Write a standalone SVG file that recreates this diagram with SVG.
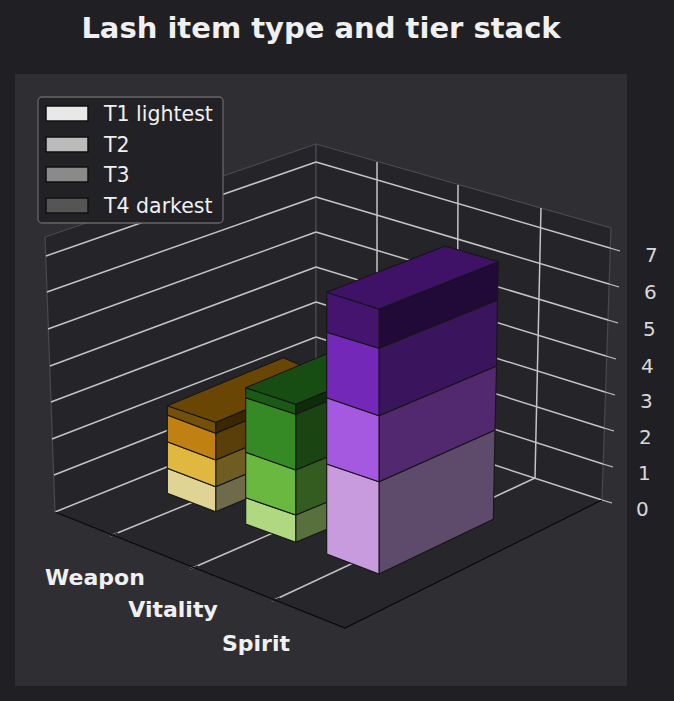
<svg xmlns="http://www.w3.org/2000/svg" width="674" height="701" viewBox="0 0 674 701">
<style>
text{font-family:"DejaVu Sans",sans-serif;fill:#f0f0f0}
.g{stroke:#c4c4c4;stroke-width:1.5;fill:none}
.e{stroke:#4a4950;stroke-width:1.2}
.b polygon{stroke:#161616;stroke-width:1.1;stroke-linejoin:round}
.cat{font-weight:bold;font-size:22px}
.zt{font-size:20px;fill:#d8d8d8}
.lg{font-size:20.5px}
</style>
<rect width="674" height="701" fill="#202024"/>
<rect x="15" y="74" width="612" height="612" fill="#2f2e33"/>
<text x="321" y="38" text-anchor="middle" font-size="29" font-weight="bold">Lash item type and tier stack</text>
<g id="panes">
<polygon points="45,237 316,144 316,407 55,512" fill="#252429" class="e"/>
<polygon points="316,144 611,228 602,500 316,407" fill="#252429" class="e"/>
<polygon points="55,512 316,407 602,500 345,628" fill="#27262b"/>
</g>
<g id="grid">
<path class="g" d="M55,512L316,407M54,475L316,372M52,439L316,337M51,402L316,302M50,366L316,267M48,329L316,232M47,292L316,197M46,256L316,162"/>
<path class="g" d="M316,407L602,500M316,372L603,464M316,337L604,428M316,302L605,392M316,267L606,356M316,232L608,320M316,197L609,284M316,162L610,248"/>
<path class="g" d="M377,162L377,427M458,185L457,453M541,208L535,478"/>
<path class="g" d="M110,536L377,427M190,569L457,453M272,601L535,478"/>
<path d="M55,512L345,628L602,500" stroke="#0a0a0a" stroke-width="1.2" fill="none"/>
<path d="M110,536L118,533M190,569L198,566M272,601L280,598" stroke="#0a0a0a" stroke-width="1.2"/>
<path d="M602,500L612,503M603,464L613,467M604,428L614,431M605,392L615,395M606,356L616,359M608,320L618,323M609,284L619,287M610,248L620,251" stroke="#c4c4c4" stroke-width="1.3"/>
</g>
<g id="ztick">
<text class="zt" x="636" y="516">0</text><text class="zt" x="638" y="480">1</text><text class="zt" x="639" y="444">2</text><text class="zt" x="640" y="408">3</text><text class="zt" x="641" y="373">4</text><text class="zt" x="643" y="336">5</text><text class="zt" x="644" y="299">6</text><text class="zt" x="645" y="262">7</text>
</g>
<g id="weapon" class="b">
<polygon points="215.7,511.7 325.7,465.7 325.7,440.7 215.7,486.7" fill="#6e6a4a"/>
<polygon points="167.3,493.3 215.7,511.7 215.7,486.7 167.3,468.3" fill="#e0d494"/>
<polygon points="215.7,486.7 325.7,440.7 325.7,414 215.7,460" fill="#6f5c20"/>
<polygon points="167.3,468.3 215.7,486.7 215.7,460 167.3,441.7" fill="#e0b840"/>
<polygon points="215.7,460 325.7,414 325.7,387.3 215.7,433.3" fill="#5a3f0a"/>
<polygon points="167.3,441.7 215.7,460 215.7,433.3 167.3,415" fill="#c08012"/>
<polygon points="215.7,433.3 325.7,387.3 325.7,376.3 215.7,422.3" fill="#3a2700"/>
<polygon points="167.3,415 215.7,433.3 215.7,422.3 167.3,405.7" fill="#74500a"/>
<polygon points="167.3,405.7 215.7,422.3 325.7,376.3 283.3,357.7" fill="#6a4605"/>
</g>
<g id="vitality" class="b">
<polygon points="295.7,542.3 407,496 407,469 295.7,515" fill="#58703e"/>
<polygon points="245.7,524 295.7,542.3 295.7,515 245.7,497.7" fill="#b0d880"/>
<polygon points="295.7,515 407,469 407,424 295.7,470" fill="#355c20"/>
<polygon points="245.7,497.7 295.7,515 295.7,470 245.7,452.3" fill="#6ab840"/>
<polygon points="295.7,470 407,424 407,368 295.7,414.3" fill="#1a4512"/>
<polygon points="245.7,452.3 295.7,470 295.7,414.3 245.7,397.7" fill="#358a25"/>
<polygon points="295.7,414.3 407,368 407,358 295.7,404.3" fill="#0d2d0a"/>
<polygon points="245.7,397.7 295.7,414.3 295.7,404.3 245.7,387.7" fill="#1a5a15"/>
<polygon points="245.7,387.7 295.7,404.3 407,358 360,340" fill="#174d12"/>
</g>
<g id="spirit" class="b">
<polygon points="379,574 493.3,519.3 495,430 379,481.7" fill="#5e4a6a"/>
<polygon points="326.7,554 379,574 379,481.7 326.7,464" fill="#c89ade"/>
<polygon points="379,481.7 495,430 496.5,366 379,415.7" fill="#52286f"/>
<polygon points="326.7,464 379,481.7 379,415.7 326.7,397.7" fill="#a558e0"/>
<polygon points="379,415.7 496.5,366 497.5,300 379,348.3" fill="#3a145c"/>
<polygon points="326.7,397.7 379,415.7 379,348.3 326.7,332.3" fill="#7428b8"/>
<polygon points="379,348.3 497.5,300 498.3,261.7 379,309" fill="#220a38"/>
<polygon points="326.7,332.3 379,348.3 379,309 326.7,292.3" fill="#44146e"/>
<polygon points="326.7,292.3 379,309 498.3,261.7 445,246" fill="#3f1268"/>
</g>
<g id="labels">
<text class="cat" x="95" y="585" text-anchor="middle">Weapon</text>
<text class="cat" x="173" y="617" text-anchor="middle">Vitality</text>
<text class="cat" x="256" y="651" text-anchor="middle">Spirit</text>
</g>
<g id="legend">
<rect x="38" y="97" width="185" height="126" rx="4" fill="#222126" stroke="#666" stroke-width="1.3"/>
<rect x="46" y="106" width="42" height="15" fill="#e8e8e8" stroke="#111" stroke-width="1.5"/>
<rect x="46" y="137" width="42" height="15" fill="#bbbbbb" stroke="#111" stroke-width="1.5"/>
<rect x="46" y="167" width="42" height="15" fill="#8a8a8a" stroke="#111" stroke-width="1.5"/>
<rect x="46" y="198" width="42" height="15" fill="#555555" stroke="#111" stroke-width="1.5"/>
<text class="lg" x="104" y="121">T1 lightest</text>
<text class="lg" x="104" y="152">T2</text>
<text class="lg" x="104" y="182">T3</text>
<text class="lg" x="104" y="213">T4 darkest</text>
</g>
</svg>
